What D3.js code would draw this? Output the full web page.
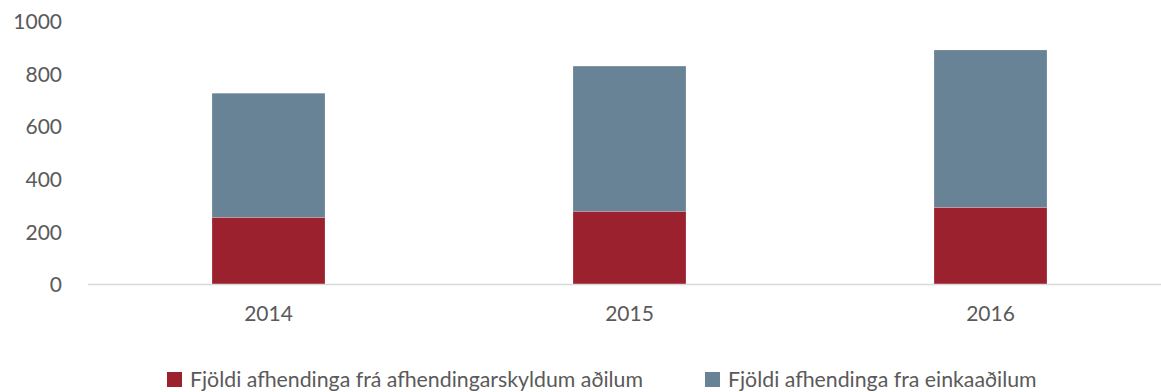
<!DOCTYPE html>
<html>
<head>
<meta charset="utf-8">
<script src="https://cdn.jsdelivr.net/npm/d3@7"></script>
<style>
  html, body { margin: 0; padding: 0; background: #fff; }
  svg { display: block; font-family: Lato, "Open Sans", sans-serif; }
</style>
</head>
<body>
<svg id="chart" width="1161" height="392"></svg>
<script>
// Deliveries per year, split by kind of provider
const years = ["2014", "2015", "2016"];
const obligated = [255, 278, 293];   // Fjöldi afhendinga frá afhendingarskyldum aðilum
const privateParties = [471, 551, 597]; // Fjöldi afhendinga fra einkaaðilum
const yTicks = [0, 200, 400, 600, 800, 1000];
const seriesNames = ["Fjöldi afhendinga frá afhendingarskyldum aðilum", "Fjöldi afhendinga fra einkaaðilum"];
const seriesColors = ["#9B212E", "#688296"];

const svg = d3.select("#chart");
const textColor = "#5a5a5a";
const fontWeight = 400;

const x = d3.scaleBand().domain(years).range([88, 1171]).paddingInner(0.687).paddingOuter(0.3435);
const y = d3.scaleLinear().domain([0, 1000]).range([284.5, 21]);

const rows = years.map((yr, i) => ({ year: yr, obligated: obligated[i], privateParties: privateParties[i] }));
const stacked = d3.stack().keys(["obligated", "privateParties"])(rows);

// Stacked bars
svg.append("g").selectAll("g")
  .data(stacked)
  .join("g")
  .attr("fill", (d, i) => seriesColors[i])
  .selectAll("rect")
  .data(d => d)
  .join("rect")
  .attr("x", d => x(d.data.year))
  .attr("width", x.bandwidth())
  .attr("y", d => y(d[1]))
  .attr("height", d => y(d[0]) - y(d[1]))
  .attr("stroke", "#ffffff")
  .attr("stroke-opacity", 0.35)
  .attr("stroke-width", 0.6);

// Baseline
svg.append("line")
  .attr("x1", 88).attr("x2", 1161)
  .attr("y1", y(0)).attr("y2", y(0))
  .attr("stroke", "#d9d9d9").attr("stroke-width", 1.5);

// Y axis labels (no axis line)
const yAxis = d3.axisLeft(y).tickValues(yTicks).tickSize(0).tickPadding(0).tickFormat(d3.format("d"));
const gy = svg.append("g").attr("transform", "translate(62,0)").call(yAxis);
gy.select(".domain").remove();
gy.selectAll("text").attr("fill", textColor).attr("font-size", 21).attr("font-weight", fontWeight)
  .attr("font-family", "Lato, sans-serif").attr("dy", "0.35em");

// X axis labels
const xAxis = d3.axisBottom(x).tickSize(0).tickPadding(0);
const gx = svg.append("g").attr("transform", "translate(0,306)").call(xAxis);
gx.select(".domain").remove();
gx.selectAll("text").attr("fill", textColor).attr("font-size", 21).attr("font-weight", fontWeight)
  .attr("font-family", "Lato, sans-serif").attr("dy", "0.71em");

// Legend
const legendX = [167, 705];
const lg = svg.append("g").selectAll("g")
  .data(seriesNames)
  .join("g")
  .attr("transform", (d, i) => `translate(${legendX[i]},372)`);
lg.append("rect").attr("width", 15).attr("height", 15).attr("fill", (d, i) => seriesColors[i]);
lg.append("text")
  .attr("x", 23).attr("y", 7.5).attr("dy", "0.35em")
  .attr("fill", textColor).attr("font-size", 21.3).attr("font-weight", fontWeight)
  .text(d => d);
</script>
</body>
</html>
